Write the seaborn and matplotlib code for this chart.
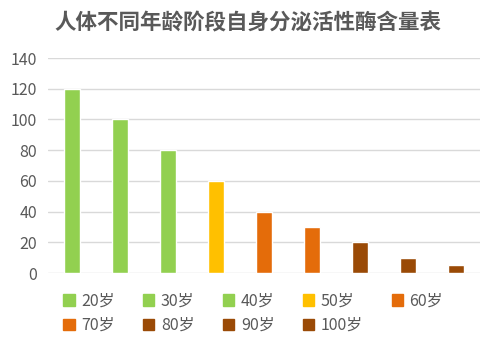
import pandas as pd
import seaborn as sns
import matplotlib.pyplot as plt

# --- data ---
ages = ['20岁', '30岁', '40岁', '50岁', '60岁', '70岁', '80岁', '90岁', '100岁']
enzyme = [120, 100, 80, 60, 40, 30, 20, 10, 5]
colors = ['#92D050', '#92D050', '#92D050', '#FFC000', '#E46C0A',
          '#E46C0A', '#9A4A06', '#9A4A06', '#9A4A06']
y_ticks = [0, 20, 40, 60, 80, 100, 120, 140]
TITLE = '人体不同年龄阶段自身分泌活性酶含量表'

df = pd.DataFrame({'age': ages, 'value': enzyme})

sns.set_style('white')
plt.rcParams['font.family'] = ['Noto Sans CJK SC', 'DejaVu Sans']

fig = plt.figure(figsize=(4.95, 3.56), dpi=100)
ax = fig.add_axes([0.097, 0.233, 0.873, 0.604])

sns.barplot(data=df, x='age', y='value', hue='age', palette=colors,
            dodge=False, width=0.32, saturation=1, legend=False, ax=ax)

ax.set_ylim(0, 140)
ax.set_yticks(y_ticks)
ax.set_xticks([])
ax.set_xlabel('')
ax.set_ylabel('')
ax.grid(axis='y', color='#D9D9D9', linewidth=1)
ax.set_axisbelow(True)
for s in ax.spines.values():
    s.set_visible(False)
ax.tick_params(axis='y', length=0, labelsize=11.5, labelcolor='#595959', pad=8)

fig.text(0.5, 0.937, TITLE, ha='center', va='center', fontsize=15.5,
         fontweight='bold', color='#595959')

# legend fills column-first, so reorder to get rows of 5 then 4
order = [0, 5, 1, 6, 2, 7, 3, 8, 4]
handles = [plt.Rectangle((0, 0), 1, 1, color=colors[i]) for i in order]
labels = [ages[i] for i in order]
leg = fig.legend(handles, labels, loc='upper left', bbox_to_anchor=(0.128, 0.178),
                 ncol=5, frameon=False, fontsize=11.5, handlelength=0.7,
                 handleheight=0.7, handletextpad=0.4, columnspacing=1.8,
                 labelspacing=0.45, borderpad=0, borderaxespad=0)
for t in leg.get_texts():
    t.set_color('#595959')

fig.savefig('out.png', dpi=100)
